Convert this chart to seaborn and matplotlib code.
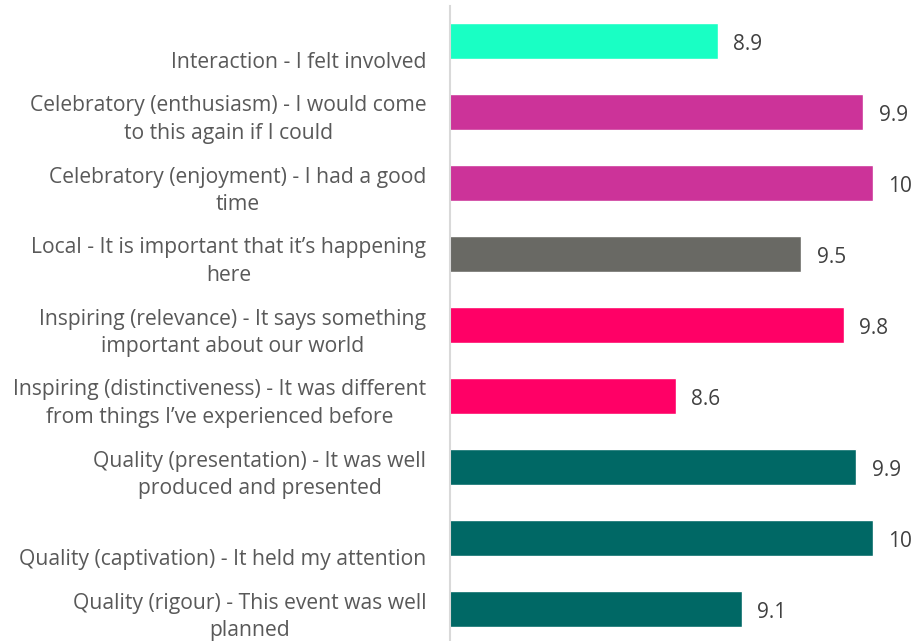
import matplotlib
matplotlib.use("Agg")
import matplotlib.pyplot as plt
import matplotlib.transforms as mtransforms
import pandas as pd
import seaborn as sns

# Data
statements = [
    "\nInteraction - I felt involved",
    "Celebratory (enthusiasm) - I would come\nto this again if I could",
    "Celebratory (enjoyment) - I had a good\ntime",
    "Local - It is important that it\u2019s happening\nhere",
    "Inspiring (relevance) - It says something\nimportant about our world",
    "Inspiring (distinctiveness) - It was different\nfrom things I\u2019ve experienced before",
    "Quality (presentation) - It was well\nproduced and presented",
    "\nQuality (captivation) - It held my attention",
    "Quality (rigour) - This event was well\nplanned",
]
scores = [8.9, 9.93, 10.0, 9.49, 9.79, 8.6, 9.88, 10.0, 9.07]
score_labels = ["8.9", "9.9", "10", "9.5", "9.8", "8.6", "9.9", "10", "9.1"]
bar_colors = ["#19FFC4", "#CC3399", "#CC3399", "#696964", "#FF0066",
              "#FF0066", "#006865", "#006865", "#006865"]

df = pd.DataFrame({"statement": statements, "score": scores})

sns.set_style("white")
plt.rcParams["font.family"] = ["Open Sans", "DejaVu Sans"]

fig = plt.figure(figsize=(9.17, 6.41), dpi=100)
ax = fig.add_axes([450 / 917, -3.5 / 641, 467 / 917, 639 / 641])

sns.barplot(data=df, x="score", y="statement", hue="statement",
            palette=bar_colors, legend=False, width=0.5, ax=ax,
            orient="h", saturation=1)

ax.set_xlim(7, 10.31)
ax.set_ylim(8.5, -0.5)
ax.set_xlabel("")
ax.set_ylabel("")
ax.set_xticks([])

for spine in ["top", "right", "bottom"]:
    ax.spines[spine].set_visible(False)
ax.spines["left"].set_color("#D9D9D9")
ax.spines["left"].set_linewidth(1.5)

ax.tick_params(axis="y", length=0, pad=17, labelsize=15.2, labelcolor="#595959")
offset = mtransforms.ScaledTranslation(0, -2 / 100, fig.dpi_scale_trans)
for lbl in ax.get_yticklabels():
    lbl.set_multialignment("center")
    lbl.set_linespacing(1.43)
    lbl.set_transform(lbl.get_transform() + offset)

for i, (v, txt) in enumerate(zip(scores, score_labels)):
    ax.annotate(txt, xy=(v, i), xytext=(11, -2.5), textcoords="offset points",
                va="center", ha="left", fontsize=15, color="#404040")

fig.savefig("out.png", dpi=100)
